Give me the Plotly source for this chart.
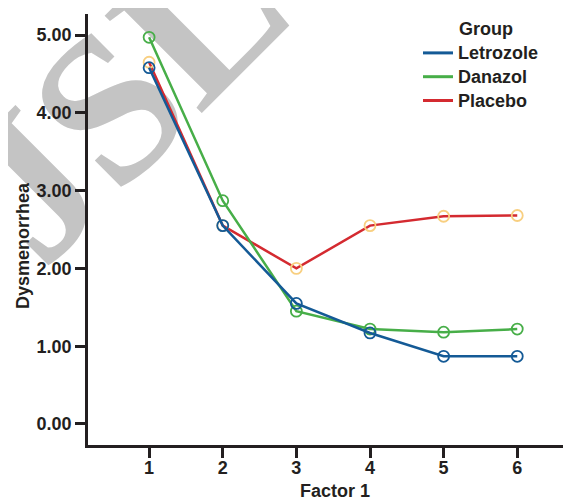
import plotly.graph_objects as go

factors = [1, 2, 3, 4, 5, 6]
letrozole = [4.58, 2.55, 1.55, 1.17, 0.87, 0.87]
danazol = [4.97, 2.87, 1.45, 1.22, 1.18, 1.22]
placebo = [4.65, 2.55, 2.00, 2.55, 2.67, 2.68]
y_ticks = [0, 1, 2, 3, 4, 5]
y_tick_labels = ["0.00", "1.00", "2.00", "3.00", "4.00", "5.00"]

FONT = "Liberation Sans, Arial, sans-serif"
AX = "#231F20"
FS = 18

# The page body has an 8px default margin; work in page pixels and convert.
W, H = 563, 492
L, R, T, B = 80, 0, 6, 55
PW, PH = W - L - R, H - T - B


def px(xp):
    return (xp - 8 - L) / PW


def py(yp):
    return (H - B - (yp - 8)) / PH


series = [
    ("Placebo", placebo, "#D42A30", "#F8CF80"),
    ("Danazol", danazol, "#47AE48", "#47AE48"),
    ("Letrozole", letrozole, "#145A96", "#145A96"),
]

fig = go.Figure()
for name, vals, lc, mc in series:
    fig.add_trace(go.Scatter(
        x=factors, y=vals, mode="lines+markers", name=name, showlegend=False,
        line=dict(color=lc, width=2.5),
        marker=dict(symbol="circle-open", size=11, color=mc, line=dict(width=1.8, color=mc)),
        cliponaxis=False,
    ))

legend_rank = {"Letrozole": 1, "Danazol": 2, "Placebo": 3}
for name, vals, lc, mc in series:
    fig.add_trace(go.Scatter(
        x=[None], y=[None], mode="lines",
        name=f"<b><span style='font-size:{FS}px'>{name}</span></b>",
        legendrank=legend_rank[name],
        line=dict(color=lc, width=3),
    ))

fig.update_layout(
    width=W, height=H,
    margin=dict(l=L, r=R, t=T, b=B),
    plot_bgcolor="white", paper_bgcolor="white",
    font=dict(family=FONT, color=AX, size=FS),
    legend=dict(
        x=px(418), y=py(36), xanchor="left", yanchor="top",
        font=dict(size=16, family=FONT, color=AX),
        bgcolor="rgba(0,0,0,0)", itemwidth=30, tracegroupgap=0,
    ),
    xaxis=dict(
        range=[0.17, 6.73], tickvals=factors, ticktext=[f"<b>{f}</b>" for f in factors],
        showline=True, linecolor=AX, linewidth=2.5, ticks="outside", ticklen=10, tickwidth=2.5,
        tickcolor=AX, showgrid=False, zeroline=False, tickfont=dict(size=FS),
        automargin=False, ticklabelstandoff=-5,
    ),
    yaxis=dict(
        range=[-0.27, 5.27], tickvals=y_ticks, ticktext=[f"<b>{t}</b>" for t in y_tick_labels],
        showline=True, linecolor=AX, linewidth=2.5, ticks="outside", ticklen=10, tickwidth=2.5,
        tickcolor=AX, showgrid=False, zeroline=False, tickfont=dict(size=FS),
        automargin=False, ticklabelstandoff=0,
    ),
    annotations=[
        dict(text="<b>Factor 1</b>", x=px(335), y=py(491), xref="paper", yref="paper",
             showarrow=False, font=dict(size=FS), xanchor="center", yanchor="middle"),
        dict(text="<b>Dysmenorrhea</b>", x=px(23), y=py(246), xref="paper", yref="paper",
             textangle=-90, showarrow=False, font=dict(size=FS),
             xanchor="center", yanchor="middle"),
        dict(text="<b>Group</b>", x=px(457), y=py(29), xref="paper", yref="paper",
             showarrow=False, font=dict(size=FS), xanchor="left", yanchor="middle"),
    ],
    shapes=[
        dict(type="rect", xref="paper", yref="paper", layer="below",
             x0=px(4), x1=px(204), y0=py(178), y1=py(-22),
             line=dict(width=0), fillcolor="rgba(0,0,0,0)",
             label=dict(text="<b>JSL</b>", textangle=-45, textposition="middle center",
                        font=dict(family="Liberation Serif, Times New Roman, serif",
                                  size=210, color="#C4C4C4"))),
    ],
)

fig.write_html("out.html")
